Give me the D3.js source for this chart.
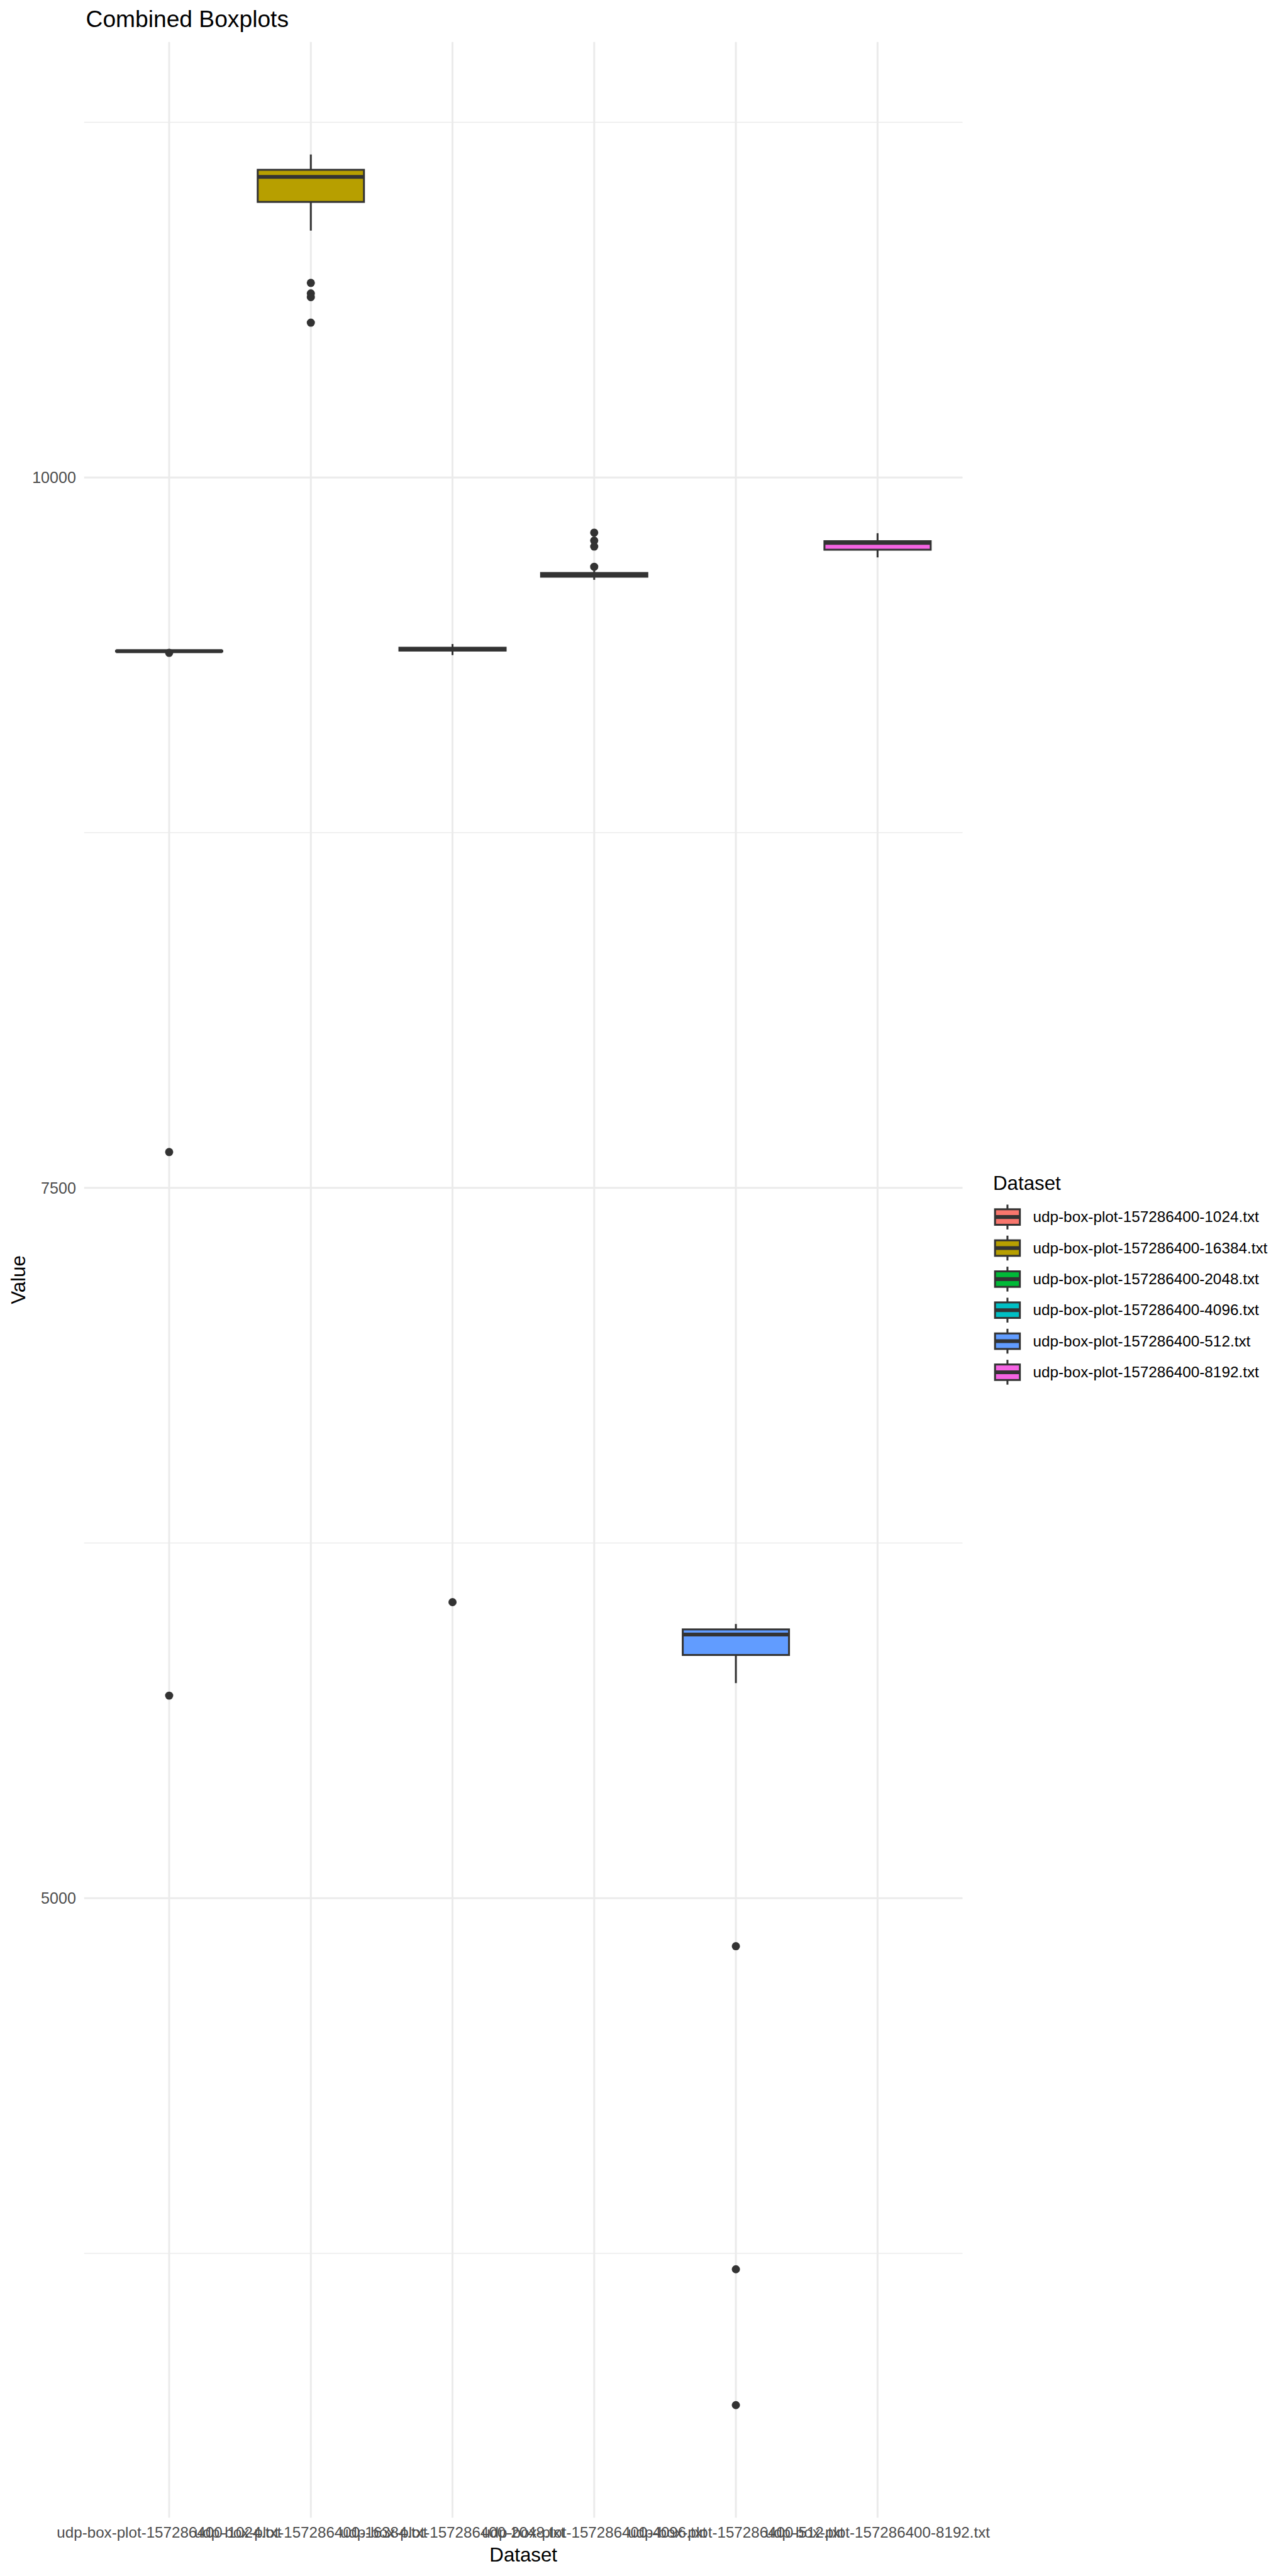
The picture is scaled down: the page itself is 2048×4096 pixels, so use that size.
<!DOCTYPE html>
<html>
<head>
<meta charset="utf-8">
<script src="https://cdn.jsdelivr.net/npm/d3@7"></script>
<style>
  html, body { margin: 0; padding: 0; background: #ffffff; }
  svg { display: block; }
  text { font-family: "Liberation Sans", Arial, Helvetica, sans-serif; }
</style>
</head>
<body>
<svg id="chart" width="2048" height="4096"></svg>
<script>
// ---------------- DATA ----------------
const categories = [
  "udp-box-plot-157286400-1024.txt",
  "udp-box-plot-157286400-16384.txt",
  "udp-box-plot-157286400-2048.txt",
  "udp-box-plot-157286400-4096.txt",
  "udp-box-plot-157286400-512.txt",
  "udp-box-plot-157286400-8192.txt"
];
const colors = ["#F8766D", "#B79F00", "#00BA38", "#00BFC4", "#619CFF", "#F564E3"];

// five-number summaries
const whiskerLow  = [9389, 10869, 9375, 9640, 5757, 9719];
const q1Values    = [9388, 10970, 9391, 9651, 5856, 9746];
const medians     = [9389, 11058, 9396, 9660, 5928, 9770];
const q3Values    = [9390, 11083, 9401, 9664, 5946, 9776];
const whiskerHigh = [9390, 11137, 9414, 9674, 5965, 9804];

// outliers per dataset
const outliers = [
  [9383, 7626, 5713],
  [10685, 10648, 10635, 10545],
  [6042],
  [9806, 9778, 9757, 9686],
  [4831, 3694, 3216],
  []
];

const yMajorTicks = [5000, 7500, 10000];
const yMinorTicks = [3750, 6250, 8750, 11250];
const yTickLabels = ["5000", "7500", "10000"];

const titleText = "Combined Boxplots";
const xTitle = "Dataset";
const yTitle = "Value";
const legendTitle = "Dataset";

// ---------------- LAYOUT (reference 3000x6000 units) ----------------
const S = 2048 / 3000;
const svg = d3.select("#chart");
const g = svg.append("g").attr("transform", `scale(${S})`);

const panel = { left: 196, right: 2242, top: 97.7, bottom: 5864 };

const allVals = [].concat(whiskerLow, whiskerHigh, ...outliers);
const vmin = d3.min(allVals), vmax = d3.max(allVals);
const ext = (vmax - vmin) * 0.05;

const y = d3.scaleLinear().domain([vmin - ext, vmax + ext]).range([panel.bottom, panel.top]);
const x = d3.scalePoint().domain(categories).range([panel.left, panel.right]).padding(0.6);
const boxW = x.step() * 0.75;

const gridCol = "#EBEBEB";
const ink = "#333333";
const lw = 4.44;

// minor grid
g.append("g").selectAll("line").data(yMinorTicks).join("line")
  .attr("x1", panel.left).attr("x2", panel.right)
  .attr("y1", d => y(d)).attr("y2", d => y(d))
  .attr("stroke", gridCol).attr("stroke-width", 2.22);
// major grid horizontal
g.append("g").selectAll("line").data(yMajorTicks).join("line")
  .attr("x1", panel.left).attr("x2", panel.right)
  .attr("y1", d => y(d)).attr("y2", d => y(d))
  .attr("stroke", gridCol).attr("stroke-width", lw);
// major grid vertical
g.append("g").selectAll("line").data(categories).join("line")
  .attr("x1", d => x(d)).attr("x2", d => x(d))
  .attr("y1", panel.top).attr("y2", panel.bottom)
  .attr("stroke", gridCol).attr("stroke-width", lw);

// boxplots
const boxData = categories.map((c, i) => ({
  c, i, lo: whiskerLow[i], q1: q1Values[i], med: medians[i], q3: q3Values[i], hi: whiskerHigh[i], out: outliers[i], col: colors[i]
}));

const bg = g.append("g");
boxData.forEach(d => {
  const cx = x(d.c);
  const grp = bg.append("g");
  grp.append("line").attr("x1", cx).attr("x2", cx).attr("y1", y(d.hi)).attr("y2", y(d.q3))
    .attr("stroke", ink).attr("stroke-width", lw);
  grp.append("line").attr("x1", cx).attr("x2", cx).attr("y1", y(d.q1)).attr("y2", y(d.lo))
    .attr("stroke", ink).attr("stroke-width", lw);
  grp.append("rect").attr("x", cx - boxW / 2).attr("width", boxW)
    .attr("y", y(d.q3)).attr("height", Math.max(0.01, y(d.q1) - y(d.q3)))
    .attr("fill", d.col).attr("stroke", ink).attr("stroke-width", lw);
  grp.append("line").attr("x1", cx - boxW / 2).attr("x2", cx + boxW / 2)
    .attr("y1", y(d.med)).attr("y2", y(d.med))
    .attr("stroke", ink).attr("stroke-width", lw * 2);
  grp.selectAll("circle").data(d.out).join("circle")
    .attr("cx", cx).attr("cy", v => y(v)).attr("r", 9.5).attr("fill", ink);
});

// y tick labels
g.append("g").selectAll("text").data(yMajorTicks).join("text")
  .attr("x", 177).attr("y", d => y(d) + 13)
  .attr("text-anchor", "end").attr("font-size", 36.7).attr("fill", "#4D4D4D")
  .text((d, i) => yTickLabels[i]);

// x tick labels
g.append("g").selectAll("text").data(categories).join("text")
  .attr("x", d => x(d)).attr("y", 5911)
  .attr("text-anchor", "middle").attr("font-size", 35.4).attr("fill", "#4D4D4D")
  .text(d => d);

// axis titles
g.append("text").attr("x", (panel.left + panel.right) / 2).attr("y", 5966)
  .attr("text-anchor", "middle").attr("font-size", 45.8).attr("fill", "#000").text(xTitle);
g.append("text")
  .attr("transform", `translate(58, ${(panel.top + panel.bottom) / 2}) rotate(-90)`)
  .attr("text-anchor", "middle").attr("font-size", 45.8).attr("fill", "#000").text(yTitle);

// title
g.append("text").attr("x", 200).attr("y", 63)
  .attr("font-size", 54.5).attr("fill", "#000").text(titleText);

// legend
const lg = g.append("g");
lg.append("text").attr("x", 2313).attr("y", 2771).attr("font-size", 45.8).attr("fill", "#000").text(legendTitle);
const keySize = 72.3, keyLeft = 2310.4, key0 = 2834.7 - keySize / 2;
boxData.forEach((d, i) => {
  const top = key0 + i * keySize;
  const cx = keyLeft + keySize / 2, cy = top + keySize / 2;
  const k = lg.append("g");
  k.append("line").attr("x1", cx).attr("x2", cx).attr("y1", top + 0.1 * keySize).attr("y2", top + 0.25 * keySize)
    .attr("stroke", ink).attr("stroke-width", lw);
  k.append("line").attr("x1", cx).attr("x2", cx).attr("y1", top + 0.75 * keySize).attr("y2", top + 0.9 * keySize)
    .attr("stroke", ink).attr("stroke-width", lw);
  k.append("rect").attr("x", keyLeft + 0.1 * keySize).attr("y", top + 0.25 * keySize)
    .attr("width", 0.8 * keySize).attr("height", 0.5 * keySize)
    .attr("fill", d.col).attr("stroke", ink).attr("stroke-width", lw);
  k.append("line").attr("x1", keyLeft + 0.1 * keySize).attr("x2", keyLeft + 0.9 * keySize)
    .attr("y1", cy).attr("y2", cy).attr("stroke", ink).attr("stroke-width", lw * 2);
  lg.append("text").attr("x", 2406).attr("y", cy + 12).attr("font-size", 35.6).attr("fill", "#000").text(d.c);
});
</script>
</body>
</html>
